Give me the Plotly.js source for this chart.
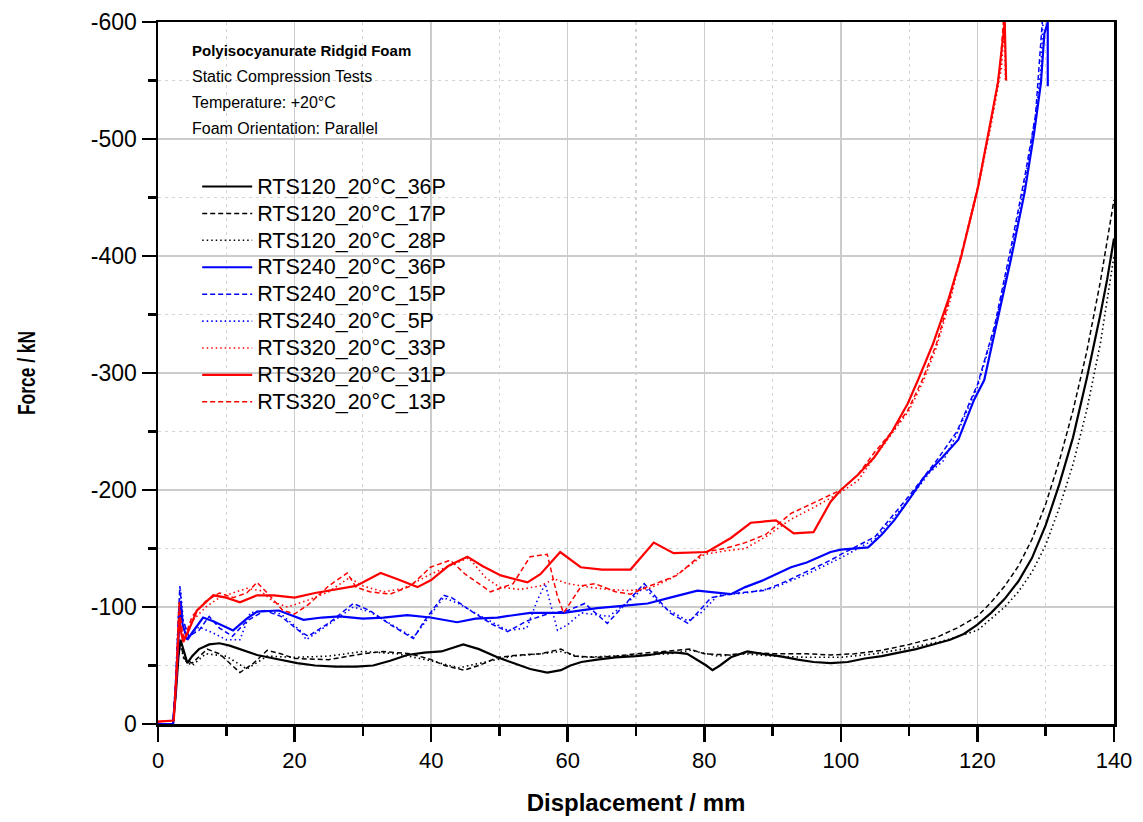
<!DOCTYPE html>
<html>
<head>
<meta charset="utf-8">
<script src="https://cdn.plot.ly/plotly-3.0.1.min.js"></script>
<style>html,body{margin:0;padding:0;background:#fff;}#chart{width:1143px;height:822px;}</style>
</head>
<body>
<div id="chart"></div>
<script>
// ---- Data (Displacement / mm, Force / kN) ----
const seriesNames = ["RTS120_20°C_36P","RTS120_20°C_17P","RTS120_20°C_28P",
                     "RTS240_20°C_36P","RTS240_20°C_15P","RTS240_20°C_5P",
                     "RTS320_20°C_33P","RTS320_20°C_31P","RTS320_20°C_13P"];

const x120_36 = [0,2.2,2.6,3.0,3.3,3.8,4.3,5,6,7.5,9,10.5,12,14.5,17,20.4,23,26,29,31.5,34,36.5,39,41.5,44.7,47,49.7,52,54.5,57,59,60.4,62,64.3,67,70,72,74,76,77.5,79,80.3,81.2,82.3,83.9,86.3,88.5,91,93.7,96,98.5,101,103.5,106,108.5,111,113.5,116,118,120,122,124,126,128,130,132,134,136,138,139,140];
const y120_36 = [0,0,-25,-58,-72,-62,-52,-58,-64,-68,-69,-67,-64,-59,-56,-52,-50,-49,-49,-50,-54,-59,-61,-62,-68,-64,-57,-52,-47,-44,-46,-50,-53,-55,-57,-58,-59,-61,-61,-60,-55,-50,-46,-50,-57,-62,-60,-58,-55,-53,-52,-53,-56,-58,-61,-64,-68,-72,-77,-85,-95,-107,-122,-142,-170,-205,-245,-295,-350,-380,-415];

const x120_17 = [0,2.2,2.6,3.0,3.3,3.8,5,7.2,9,12,14,16,18,20,25,30,33,37,40,42,44.8,47,49.8,53,56,59,61,64,67,70,74,77.9,80,83.6,87,90,95,98.5,102,106,110,114,117,120,122,124,126,128,130,132,134,136,138,140];
const y120_17 = [0,0,-30,-62,-70,-56,-52,-64,-60,-44,-52,-63,-60,-56,-55,-60,-62,-60,-55,-50,-46,-50,-57,-59,-60,-64,-58,-57,-58,-60,-62,-64,-60,-59,-61,-60,-60,-59,-60,-63,-68,-74,-82,-92,-104,-118,-135,-158,-188,-225,-268,-318,-378,-448];

const x120_28 = [0,2.2,2.6,3.0,3.3,3.8,5,7,10,13,16,20,25,30,35,40,44,48,52,56,59,62,66,70,75,78,82,86,90,95,100,105,110,115,118,120,122,124,126,128,130,132,134,136,138,140];
const y120_28 = [0,0,-28,-60,-68,-55,-50,-60,-58,-47,-58,-57,-58,-62,-60,-54,-48,-53,-58,-60,-62,-57,-58,-59,-60,-63,-58,-60,-58,-57,-57,-60,-65,-71,-76,-80,-90,-100,-113,-130,-153,-185,-222,-268,-325,-400];

const x240_36 = [0,2.2,2.6,3.0,3.3,3.6,4.3,5,6.6,8,9.4,11,13,14.5,17.7,21.3,24,26.6,30,33,36.5,39.9,43.8,46.5,49.7,54.5,59.4,64.3,68,71.7,75,79,83.9,86,88.7,92.7,95,98.5,100,102,104,106,107.8,110,112.2,114.7,117.2,119.5,121,122.5,124.9,126.9,128.3,129.3,129.8,130.3,130.3];
const y240_36 = [0,0,-30,-75,-105,-85,-72,-78,-91,-88,-84,-80,-90,-96,-97,-89,-91,-92,-90,-91,-93,-91,-87,-90,-91,-95,-95,-99,-101,-103,-108,-114,-111,-117,-123,-134,-138,-147,-149,-150,-151,-162,-174,-192,-211,-227,-243,-277,-294,-334,-397,-454,-505,-548,-590,-600,-545];

const x240_15 = [0,2.2,2.6,3.0,3.2,3.6,4.5,6,7.5,9,10.9,13,15.6,18,20.8,22,25.2,28.6,31,34,37.4,39,41.8,43,46,49,51.2,54,57,60,62.5,65.8,68,71.2,73,75,77.6,79,81,85,88.7,92,95,98.5,100,105,110,114,117,120,122.5,125,127,128.5,129.5];
const y240_15 = [0,0,-40,-100,-118,-90,-75,-80,-92,-82,-75,-88,-97,-92,-79,-75,-87,-103,-97,-85,-73,-88,-110,-108,-96,-85,-79,-88,-94,-97,-103,-86,-100,-120,-108,-95,-86,-95,-108,-112,-114,-122,-130,-140,-145,-160,-195,-225,-250,-290,-340,-410,-470,-520,-600];

const x240_5 = [0,2.2,2.6,3.0,3.3,3.7,4.5,6,8,10,12,13.5,15.6,18,20.8,21.7,25.2,28.6,31,34,37.4,39.5,41.8,44,47,51.2,54,55.5,56.7,58.5,60,62,66,69,71.2,74,77.6,79.5,82,86,90,95,100,105,110,113,115,117,120,122.5,125,127,128.5,129.3,129.6];
const y240_5 = [0,0,-35,-95,-115,-88,-74,-83,-78,-72,-72,-95,-97,-94,-80,-72,-86,-100,-96,-86,-74,-90,-108,-103,-93,-80,-82,-105,-120,-80,-85,-95,-92,-105,-117,-100,-88,-95,-110,-112,-116,-128,-142,-158,-192,-215,-225,-248,-288,-338,-405,-465,-520,-560,-600];

const x320_33 = [0,2.3,2.7,3.1,3.4,3.8,5,7,9,11,13,15,17,19,22,25,28,30,33,36,39.9,43,45.5,48,50,53,56,58,60,63,66,69,72,75,78,80,83,86,89,92.7,96,100,102.5,104.9,107.5,110,112,114,116,118,120,122,123.5,124,124.1];
const y320_33 = [-2,-3,-45,-100,-82,-72,-88,-100,-108,-112,-116,-114,-104,-100,-106,-113,-125,-118,-113,-116,-128,-136,-142,-125,-117,-115,-118,-124,-120,-117,-115,-114,-116,-124,-136,-145,-148,-150,-160,-175,-185,-198,-208,-228,-248,-268,-292,-322,-362,-408,-455,-512,-560,-600,-550];

const x320_31 = [0,2.3,2.7,3.1,3.4,3.7,4.5,5.7,8.1,10,12,14.5,17,20,23,26,29,32.6,35,38,40,42.5,45.3,47.5,50.2,54.1,56,58.9,61.9,65,69.2,72.6,75.5,80.4,83.9,86.8,90.5,93.1,96,98.5,100,102.5,104.9,107.5,109.8,111.3,113.5,115.7,117.6,120.1,121.5,123,124,124.2];
const y320_31 = [-2,-3,-40,-90,-78,-70,-80,-97,-110,-108,-104,-110,-110,-108,-112,-115,-118,-129,-124,-117,-123,-135,-143,-135,-127,-121,-128,-147,-134,-132,-132,-155,-146,-147,-159,-172,-174,-163,-164,-190,-200,-213,-228,-250,-274,-294,-325,-362,-399,-459,-502,-548,-600,-550];

const x320_13 = [0,2.3,2.7,3.1,3.4,3.8,5,7,9,11,13,14.5,16,18.3,20,22,25,27.7,29,31,34,37,39.9,42.8,45,48.7,52,54.5,57,58.5,59.4,62,64,67,69.2,72,76,80,83,86,89,92.7,96,100,102.5,104.9,107.5,109.8,112,114,116,118,120,122,123.3,123.8];
const y320_13 = [-2,-3,-50,-105,-85,-72,-92,-105,-112,-108,-112,-121,-112,-97,-94,-102,-118,-129,-117,-113,-111,-118,-134,-140,-128,-113,-120,-143,-145,-109,-95,-118,-120,-113,-111,-118,-127,-147,-150,-155,-162,-180,-189,-200,-213,-232,-250,-268,-295,-325,-365,-410,-458,-515,-560,-600];

const xTickVals = [0,20,40,60,80,100,120,140];
const yTickVals = [0,-100,-200,-300,-400,-500,-600];
const yTickText = ["0","-100","-200","-300","-400","-500","-600"];
const infoLines = ["<b>Polyisocyanurate Ridgid Foam</b>","Static Compression Tests","Temperature: +20°C","Foam Orientation: Parallel"];

// ---- Traces ----
const xs = [x120_36,x120_17,x120_28,x240_36,x240_15,x240_5,x320_33,x320_31,x320_13];
const ys = [y120_36,y120_17,y120_28,y240_36,y240_15,y240_5,y320_33,y320_31,y320_13];
const colors = ["#000000","#000000","#000000","#0000ff","#0000ff","#0000ff","#ff0000","#ff0000","#ff0000"];
const dashes = ["solid","5px,3px","1.5px,3px","solid","5px,3px","1.5px,3px","1.5px,3px","solid","5px,3px"];
const widths = [2.2,1.5,1.6,2.2,1.5,1.6,1.6,2.2,1.5];

const traces = seriesNames.map((n,i)=>({
  type:"scatter", mode:"lines",
  name:'<span style="font-size:21.5px">'+n+'</span>',
  x:xs[i], y:ys[i],
  line:{color:colors[i], width:widths[i], dash:dashes[i]}
}));

const F = "Liberation Sans, Arial, Helvetica, sans-serif";
const annotations = infoLines.map((t,i)=>({
  xref:"paper", yref:"paper", x:0.0335, y:[0.960,0.923,0.886,0.848][i],
  xanchor:"left", yanchor:"middle", showarrow:false, text:t,
  font:{family:F, size:(i===0?15:16), color:"#000"}
}));

const layout = {
  width:1143, height:822,
  margin:{l:158, r:29, t:22, b:98, pad:0},
  paper_bgcolor:"#fff", plot_bgcolor:"#fff",
  font:{family:F, color:"#000"},
  showlegend:true,
  legend:{x:0.041, y:0.792, xanchor:"left", yanchor:"top", bgcolor:"rgba(0,0,0,0)",
          font:{family:F, size:18.4, color:"#000"}, itemwidth:50, tracegroupgap:0},
  xaxis:{range:[0,140], tickvals:xTickVals, ticks:"outside", ticklen:15, tickwidth:2.5, tickcolor:"#000",
         showline:true, linewidth:2.5, linecolor:"#000", mirror:true,
         showgrid:true, gridcolor:"#cccccc", gridwidth:1.5, zeroline:false,
         tickfont:{family:F, size:22, color:"#000"},
         minor:{tickmode:"linear", tick0:0, dtick:10, ticks:"outside", ticklen:9, tickwidth:2.5, tickcolor:"#000",
                showgrid:true, gridcolor:"#d4d4d4", gridwidth:1.2, griddash:"3px,4px"},
         title:{text:"<b>Displacement / mm</b>", font:{family:F, size:24, color:"#000"}, standoff:23}},
  yaxis:{range:[0,-600], tickvals:yTickVals, ticktext:yTickText, ticks:"outside", ticklen:14, tickwidth:2.5, tickcolor:"#000",
         showline:true, linewidth:2.5, linecolor:"#000", mirror:true,
         showgrid:true, gridcolor:"#cccccc", gridwidth:1.5, zeroline:false,
         tickfont:{family:F, size:23, color:"#000"},
         minor:{tickmode:"linear", tick0:0, dtick:50, ticks:"outside", ticklen:8, tickwidth:2.5, tickcolor:"#000",
                showgrid:true, gridcolor:"#d4d4d4", gridwidth:1.2, griddash:"3px,4px"},
         title:{text:"<b>Force / kN</b>", font:{family:F, size:23, color:"#000"}, standoff:49}},
  annotations:annotations
};

Plotly.newPlot("chart", traces, layout, {displayModeBar:false, staticPlot:true}).then(function(){
  // the reference uses a condensed bold face for the y title: compress it along its length
  var yt = document.querySelector('#chart .ytitle');
  if (yt) { yt.setAttribute('textLength', '84'); yt.setAttribute('lengthAdjust', 'spacingAndGlyphs'); }
});
</script>
</body>
</html>
